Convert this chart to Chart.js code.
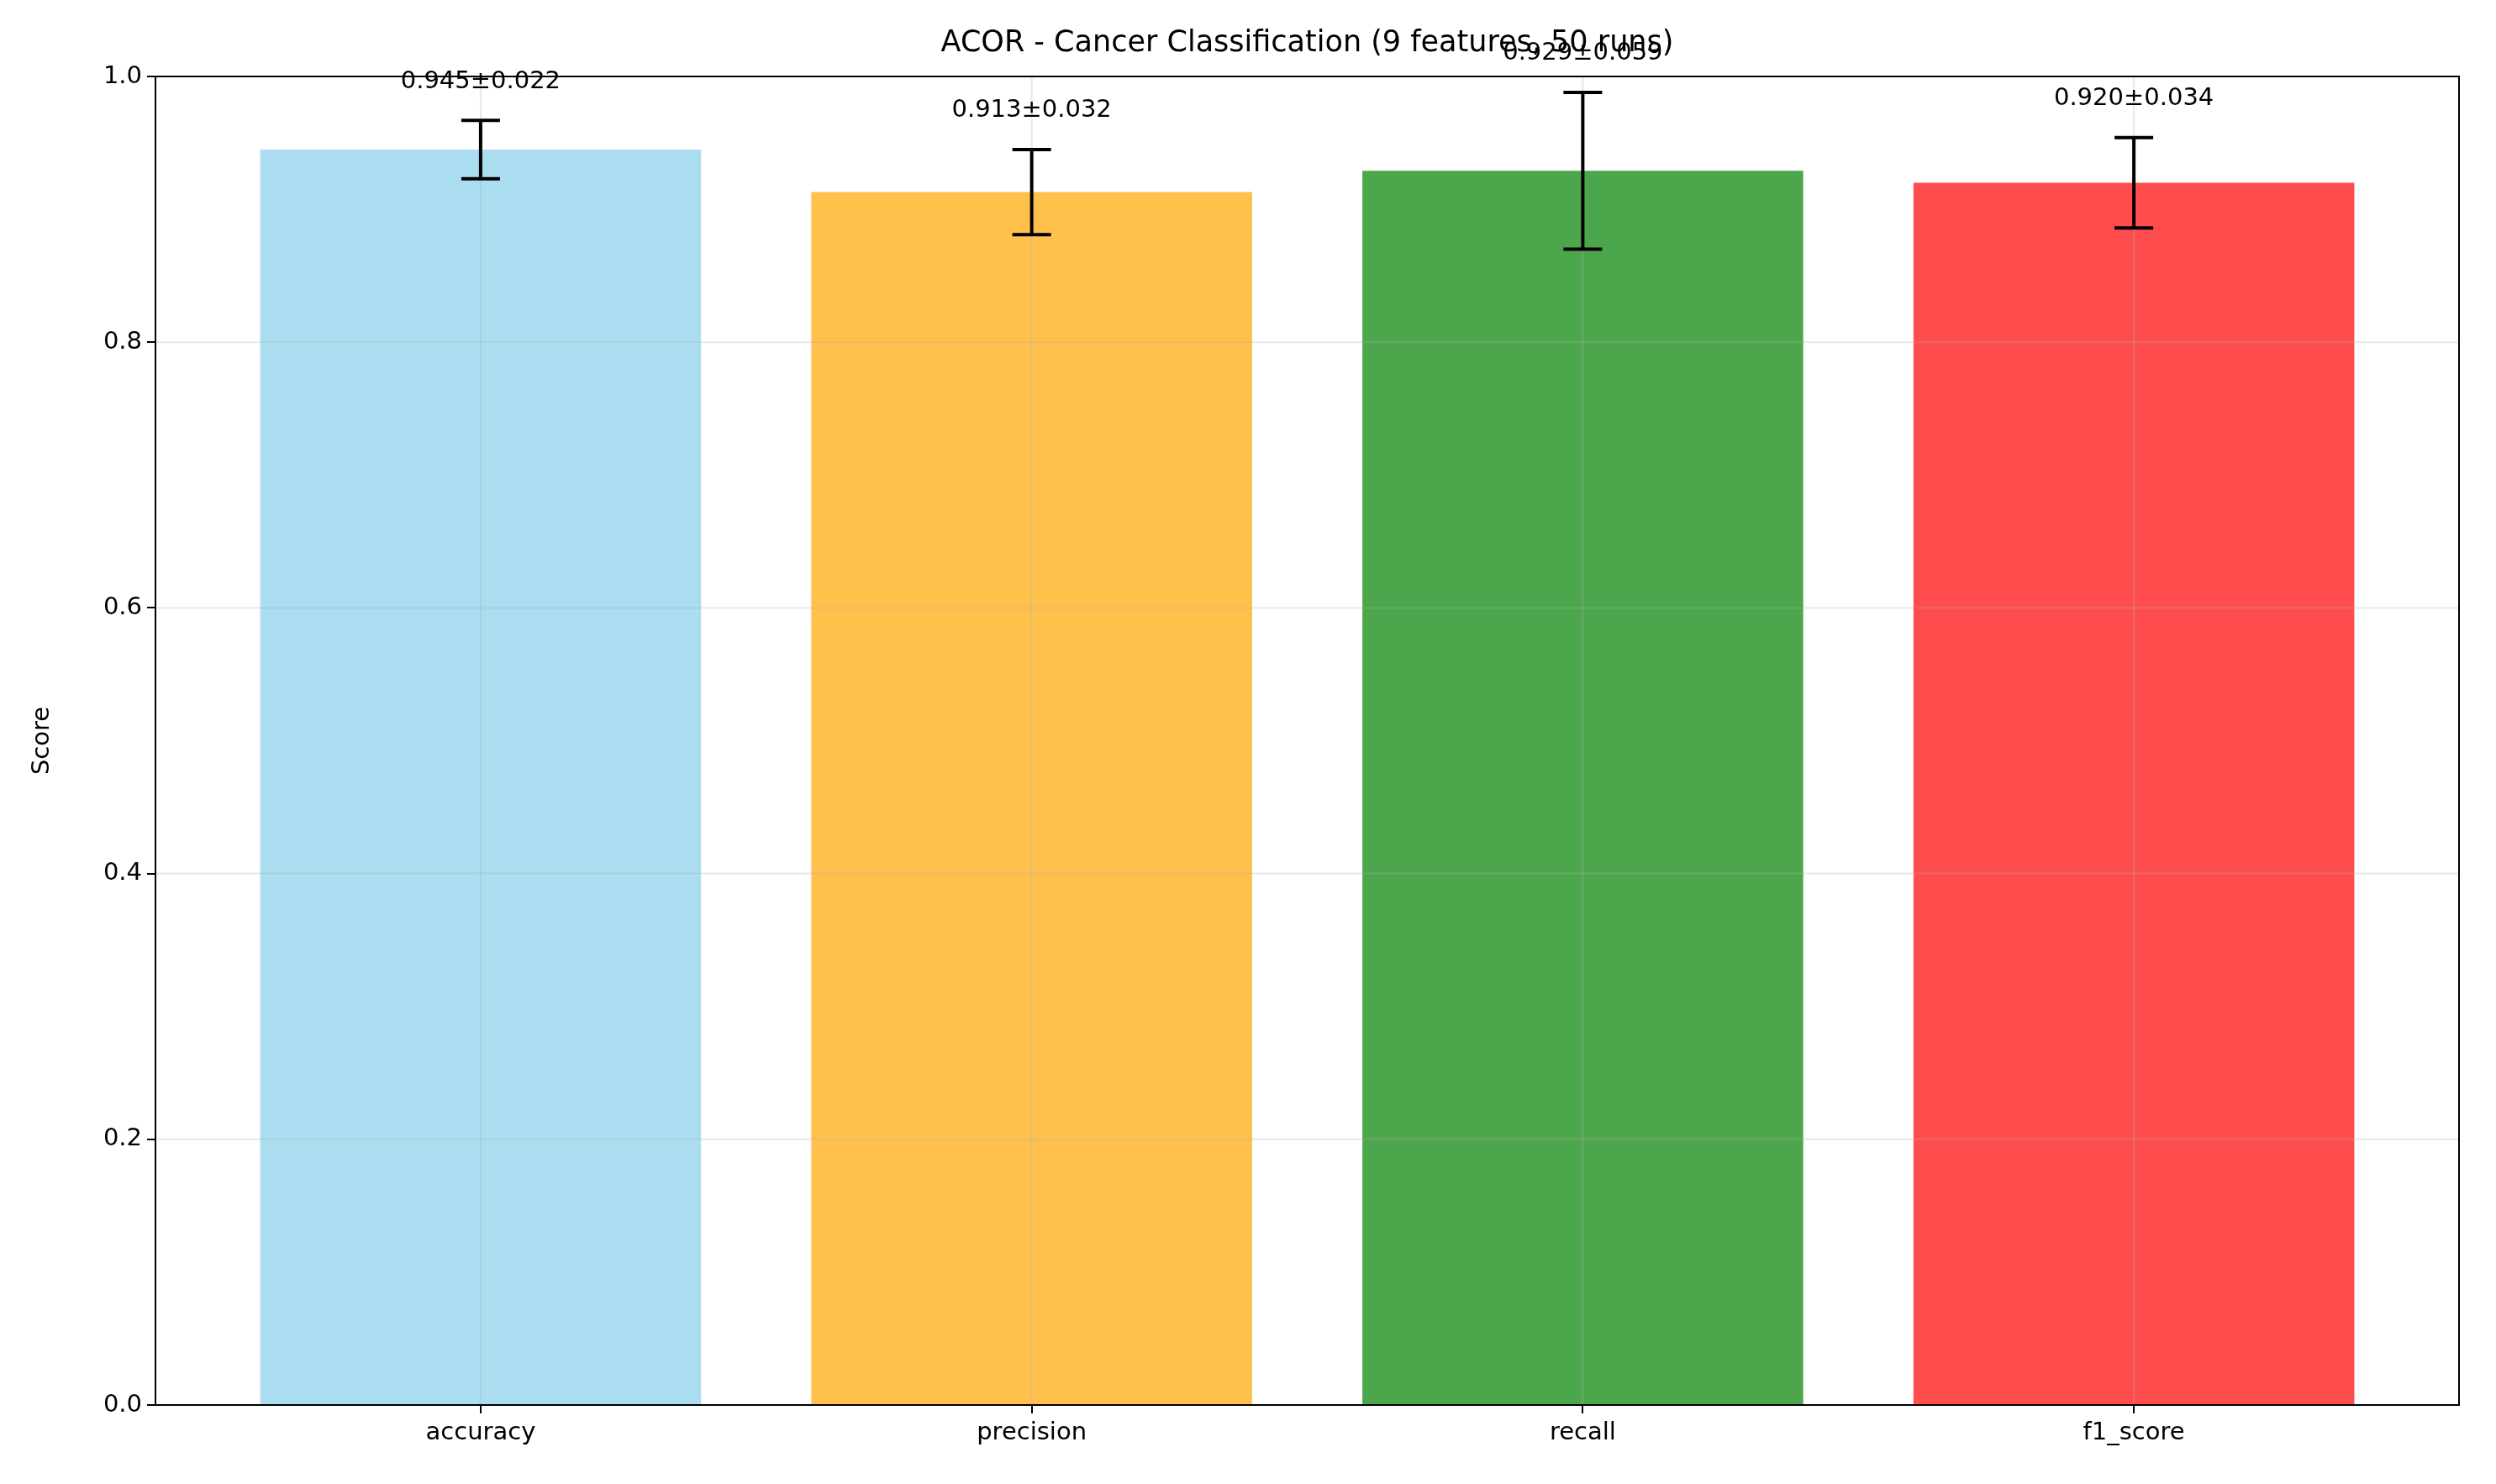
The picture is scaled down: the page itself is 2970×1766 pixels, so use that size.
<!DOCTYPE html>
<html>
<head>
<meta charset="utf-8">
<script src="https://cdn.jsdelivr.net/npm/chart.js@4.4.0/dist/chart.umd.min.js"></script>
<style>
  html, body { margin: 0; padding: 0; background: #fff; }
  #wrap { width: 2970px; height: 1766px; }
</style>
</head>
<body>
<div id="wrap"><canvas id="score_chart" width="2970" height="1766"></canvas></div>
<script>
var metrics = ['accuracy', 'precision', 'recall', 'f1_score'];
var means = [0.945, 0.913, 0.929, 0.920];
var stds = [0.022, 0.032, 0.059, 0.034];
var barColors = ['rgba(135, 206, 235, 0.7)', 'rgba(255, 165, 0, 0.7)', 'rgba(0, 128, 0, 0.7)', 'rgba(255, 0, 0, 0.7)'];
var yTicks = [0, 0.2, 0.4, 0.6, 0.8, 1.0];
var titleText = 'ACOR - Cancer Classification (9 features, 50 runs)';
var FONT = "'DejaVu Sans', sans-serif";

// grid over the bars, error bars, value labels, title, y label
var extras = {
    id: 'extras',
    afterDatasetsDraw: function (chart) {
        var c = chart.ctx, a = chart.chartArea, xs = chart.scales.x, ys = chart.scales.y;
        c.save();
        c.strokeStyle = 'rgba(176, 176, 176, 0.3)';
        c.lineWidth = 2;
        metrics.forEach(function (m, i) {
            var px = xs.getPixelForValue(i);
            c.beginPath(); c.moveTo(px, a.top); c.lineTo(px, a.bottom); c.stroke();
        });
        yTicks.forEach(function (t) {
            var py = ys.getPixelForValue(t);
            c.beginPath(); c.moveTo(a.left, py); c.lineTo(a.right, py); c.stroke();
        });
        // error bars
        c.strokeStyle = '#000';
        c.lineWidth = 4;
        c.fillStyle = '#000';
        c.font = '29px ' + FONT;
        c.textAlign = 'center';
        c.textBaseline = 'bottom';
        metrics.forEach(function (m, i) {
            var px = xs.getPixelForValue(i);
            var hi = ys.getPixelForValue(means[i] + stds[i]);
            var lo = ys.getPixelForValue(means[i] - stds[i]);
            c.beginPath();
            c.moveTo(px, hi); c.lineTo(px, lo);
            c.moveTo(px - 23, hi); c.lineTo(px + 23, hi);
            c.moveTo(px - 23, lo); c.lineTo(px + 23, lo);
            c.stroke();
            c.fillText(means[i].toFixed(3) + '±' + stds[i].toFixed(3), px, ys.getPixelForValue(means[i] + stds[i] + 0.02));
        });
        // frame
        c.lineWidth = 2;
        c.strokeRect(a.left, a.top, a.right - a.left, a.bottom - a.top);
        // title
        c.font = '35px ' + FONT;
        c.textBaseline = 'middle';
        c.fillText(titleText, (a.left + a.right) / 2, 52);
        // y label
        c.font = '29px ' + FONT;
        c.translate(50, (a.top + a.bottom) / 2);
        c.rotate(-Math.PI / 2);
        c.fillText('Score', 0, 0);
        c.restore();
    }
};

var ctx = document.getElementById('score_chart').getContext('2d');
var chart = new Chart(ctx, {
    type: 'bar',
    data: {
        datasets: [{
            data: metrics.map(function (m, i) { return { x: i, y: means[i] }; }),
            backgroundColor: barColors,
            borderWidth: 0,
            barPercentage: 0.8,
            categoryPercentage: 1.0
        }]
    },
    options: {
        responsive: false,
        animation: false,
        devicePixelRatio: 1,
        layout: { padding: { left: 0, right: 44, top: 91, bottom: 0 } },
        plugins: { legend: { display: false }, tooltip: { enabled: false }, title: { display: false } },
        scales: {
            x: {
                type: 'linear',
                offset: false,
                min: -0.59,
                max: 3.59,
                afterBuildTicks: function (scale) {
                    scale.ticks = metrics.map(function (m, i) { return { value: i }; });
                },
                afterFit: function (scale) { scale.height = 94; },
                ticks: {
                    color: '#000',
                    font: { family: FONT, size: 29 },
                    padding: 6,
                    maxRotation: 0,
                    callback: function (value) { return metrics[value]; }
                },
                grid: { drawOnChartArea: false, offset: false, color: '#000', tickLength: 10, lineWidth: 2 },
                border: { display: false }
            },
            y: {
                min: 0,
                max: 1,
                afterBuildTicks: function (scale) {
                    scale.ticks = yTicks.map(function (t) { return { value: t }; });
                },
                afterFit: function (scale) { scale.width = 185; },
                ticks: {
                    color: '#000',
                    font: { family: FONT, size: 29 },
                    padding: 6,
                    callback: function (value) { return value.toFixed(1); }
                },
                grid: { drawOnChartArea: false, color: '#000', tickLength: 10, lineWidth: 2 },
                border: { display: false }
            }
        }
    },
    plugins: [extras]
});
</script>
</body>
</html>
